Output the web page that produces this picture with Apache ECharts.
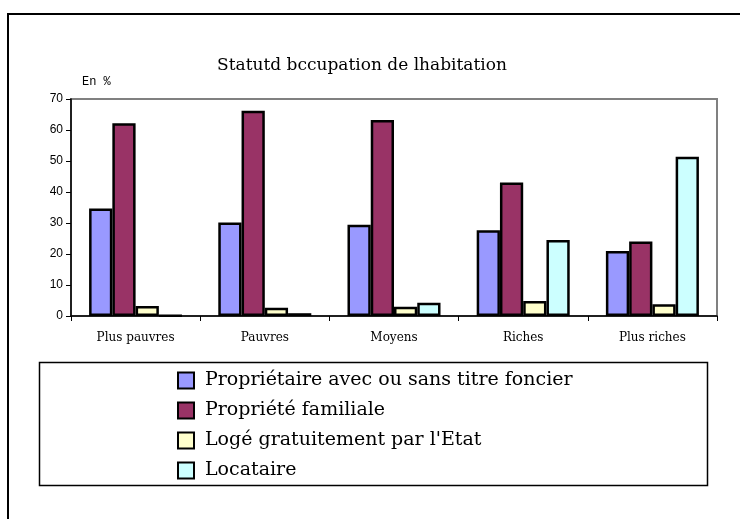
<!DOCTYPE html>
<html>
<head>
<meta charset="utf-8">
<script src="https://cdn.jsdelivr.net/npm/echarts@6/dist/echarts.min.js"></script>
<style>html,body{margin:0;padding:0;background:#fff;}#c{width:740px;height:519px;}</style>
</head>
<body>
<div id="c"></div>
<script>
var categories = ['Plus pauvres', 'Pauvres', 'Moyens', 'Riches', 'Plus riches'];
var seriesNames = ['Propriétaire avec ou sans titre foncier', 'Propriété familiale', "Logé gratuitement par l'Etat", 'Locataire'];
var proprietaire = [34.7, 30.2, 29.4, 27.7, 21.0];
var familiale = [62.2, 66.2, 63.2, 43.1, 24.0];
var loge = [3.2, 2.7, 3.0, 4.8, 3.8];
var locataire = [0.1, 0.9, 4.3, 24.5, 51.4];
var yTicks = [0, 10, 20, 30, 40, 50, 60, 70];
var colors = ['#9999FF', '#993366', '#FFFFCC', '#CCFFFF'];

var chart = echarts.init(document.getElementById('c'), null, {renderer: 'canvas'});
var values = [proprietaire, familiale, loge, locataire];
var series = values.map(function (v, i) {
  return {
    name: seriesNames[i],
    type: 'bar',
    data: v,
    barGap: '0%',
    barCategoryGap: '28%',
    itemStyle: {color: colors[i], borderColor: '#000', borderWidth: 2.5},
    emphasis: {disabled: true},
    animation: false
  };
});
chart.setOption({
  animation: false,
  title: {
    text: 'Statutd bccupation de lhabitation',
    left: 357, top: 52, textAlign: 'center',
    textStyle: {fontFamily: 'DejaVu Serif', fontSize: 17, fontWeight: 'normal', color: '#000'}
  },
  graphic: [
    {type: 'rect', shape: {x: 8, y: 14, width: 760, height: 540}, style: {fill: 'none', stroke: '#000', lineWidth: 2}, z: -10},
    {type: 'rect', shape: {x: 39.5, y: 362.5, width: 668, height: 123}, style: {fill: '#fff', stroke: '#000', lineWidth: 1.5}, z: -5},
    {type: 'text', left: 82, top: 76, style: {text: 'En %', font: '12px "Liberation Mono"', fill: '#000'}}
  ],
  legend: {
    orient: 'vertical',
    left: 172, top: 366,
    itemWidth: 16, itemHeight: 16, itemGap: 11,
    icon: 'rect',
    selectedMode: false,
    textStyle: {fontFamily: 'DejaVu Serif', fontSize: 19, color: '#000', padding: [0, 0, 0, 6]},
    itemStyle: {borderColor: '#000', borderWidth: 2},
    data: seriesNames
  },
  grid: {left: 71, right: 23, top: 99, bottom: 203, show: true, borderColor: '#808080', borderWidth: 2, backgroundColor: 'transparent'},
  xAxis: {
    type: 'category',
    data: categories,
    axisLine: {lineStyle: {color: '#000', width: 1.5}},
    axisTick: {show: true, length: 5, lineStyle: {color: '#000'}},
    axisLabel: {fontFamily: 'DejaVu Serif', fontSize: 12, color: '#000', margin: 16}
  },
  yAxis: {
    type: 'value',
    min: 0, max: 70, interval: 10,
    splitLine: {show: false},
    axisLine: {show: true, lineStyle: {color: '#000', width: 1.5}},
    axisTick: {show: true, length: 5, lineStyle: {color: '#000'}},
    axisLabel: {fontFamily: 'Liberation Sans', fontSize: 12, color: '#000', margin: 8,
      formatter: function (v) { return yTicks.indexOf(v) >= 0 ? String(v) : ''; }}
  },
  series: series
});
</script>
</body>
</html>
